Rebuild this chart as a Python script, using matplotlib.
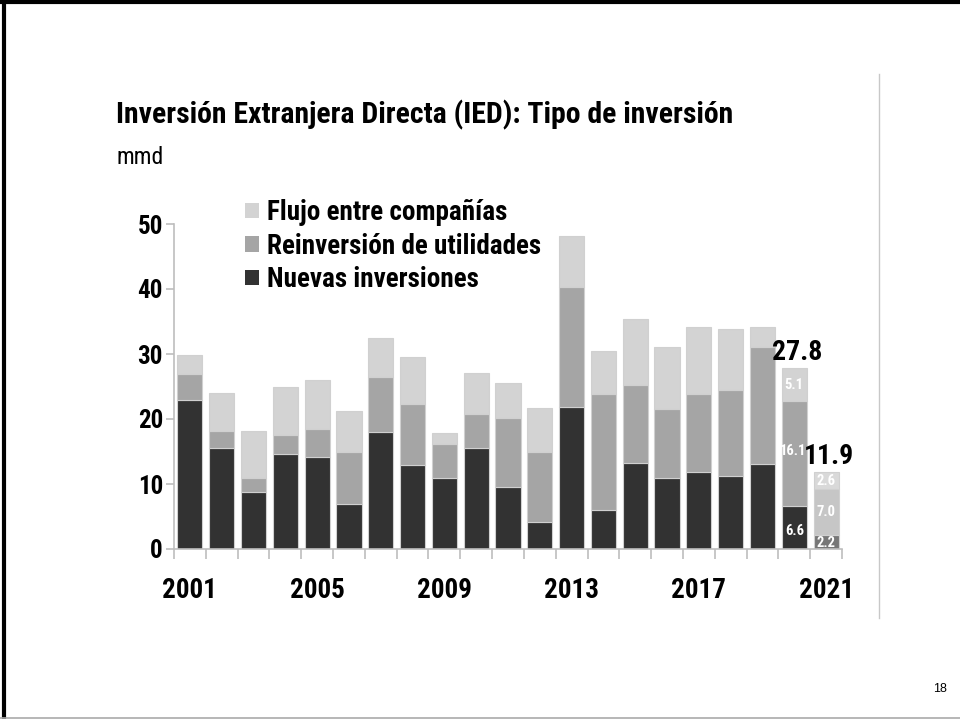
import matplotlib
matplotlib.use("Agg")
import matplotlib.pyplot as plt
from matplotlib import font_manager as fm
from matplotlib.lines import Line2D
import numpy as np

names = {f.name for f in fm.fontManager.ttflist}
FONT = 'Liberation Sans'
for cand in ['Liberation Sans Narrow', 'Arial Narrow', 'Roboto Condensed', 'PT Sans Narrow',
             'Archivo Narrow', 'Barlow Semi Condensed']:
    if cand in names:
        FONT = cand
        break
FAM = [FONT, 'DejaVu Sans']
plt.rcParams['font.family'] = FAM

years = list(range(2001, 2022))
nuevas = [23.0, 15.5, 8.7, 14.6, 14.1, 6.9, 18.0, 12.9, 10.9, 15.5, 9.6,
          4.2, 21.9, 6.0, 13.2, 10.9, 11.8, 11.2, 13.1, 6.6, 2.2]
reinversion = [3.9, 2.6, 2.3, 2.9, 4.4, 8.1, 8.5, 9.4, 5.3, 5.3, 10.6,
               10.7, 18.4, 17.9, 12.0, 10.7, 12.1, 13.2, 18.0, 16.1, 7.0]
flujo = [3.0, 5.9, 7.2, 7.5, 7.5, 6.2, 6.0, 7.2, 1.6, 6.3, 5.3,
         6.8, 7.9, 6.5, 10.2, 9.5, 10.3, 9.5, 3.1, 5.1, 2.6]
series_names = ['Nuevas inversiones', 'Reinversión de utilidades', 'Flujo entre compañías']
total_labels = {2020: '27.8', 2021: '11.9'}
xtick_years = [2001, 2005, 2009, 2013, 2017, 2021]
yticks = [0, 10, 20, 30, 40, 50]

c_n, c_r, c_f = '#323232', '#a5a5a5', '#d3d3d3'
c_n21, c_r21, c_f21 = '#777777', '#c6c6c6', '#d9d9d9'

fig = plt.figure(figsize=(9.6, 7.19), dpi=100)
ax = fig.add_axes([174/960, 1-549/719, 668/960, 325/719])

x = np.arange(len(years))
n_cols = [c_n]*(len(years)-1) + [c_n21]
r_cols = [c_r]*(len(years)-1) + [c_r21]
f_cols = [c_f]*(len(years)-1) + [c_f21]
w = 0.79
ec = '#d0d0d0'
b1 = ax.bar(x, nuevas, w, color=n_cols, edgecolor=ec, linewidth=0.8, label=series_names[0])
b2 = ax.bar(x, reinversion, w, bottom=nuevas, color=r_cols, edgecolor=ec, linewidth=0.8, label=series_names[1])
bot3 = np.array(nuevas) + np.array(reinversion)
b3 = ax.bar(x, flujo, w, bottom=bot3, color=f_cols, edgecolor=ec, linewidth=0.8, label=series_names[2])

ax.set_xlim(-0.5, len(years)-0.5)
ax.set_ylim(0, 50)
for s in ['top', 'right']:
    ax.spines[s].set_visible(False)
for s in ['left', 'bottom']:
    ax.spines[s].set_color('#bdbdbd')
    ax.spines[s].set_linewidth(1.2)

ax.set_yticks(yticks)
ax.set_yticklabels([str(v) for v in yticks], fontsize=18, fontweight='bold')
ax.tick_params(axis='y', length=6, color='#bdbdbd', width=1.2, pad=2)
ax.set_xticks([years.index(y) for y in xtick_years])
ax.set_xticklabels([str(y) for y in xtick_years], fontsize=19.5, fontweight='bold')
ax.set_xticks(np.arange(-0.5, len(years), 1.0), minor=True)
ax.tick_params(axis='x', which='major', length=0, pad=20)
ax.tick_params(axis='x', which='minor', length=7, color='#bdbdbd', width=1.2)

# segment labels for last two bars
for yr in [2020, 2021]:
    i = years.index(yr)
    segs = [(nuevas[i], 0), (reinversion[i], nuevas[i]), (flujo[i], bot3[i])]
    for k, (v, b) in enumerate(segs):
        ypos = b + v/2
        if yr == 2021 and k == 0:
            ypos = b + v/2 - 0.2
        if yr == 2020 and k == 0:
            ypos = b + v/2 - 0.5
        if yr == 2020 and k == 1:
            ypos = b + v/2 + 0.4
        ax.text(i - (0.05 if (yr == 2020 and k == 1) else 0), ypos, f'{v:.1f}', ha='center', va='center',
                color='white', fontsize=10.5, fontweight='bold')
    total = nuevas[i] + reinversion[i] + flujo[i]
    ax.text(i + 0.1, total + 0.3, total_labels[yr], ha='center', va='bottom',
            fontsize=20, fontweight='bold', color='black')

handles = [b3, b2, b1]
leg = ax.legend(handles, [series_names[2], series_names[1], series_names[0]],
                loc='upper left', bbox_to_anchor=(245/960, 1-199/719), bbox_transform=fig.transFigure,
                frameon=False, handlelength=0.5, handleheight=0.5, handletextpad=0.3,
                labelspacing=0.24, borderpad=0, borderaxespad=0,
                prop={'family': FAM, 'weight': 'bold', 'size': 19.5})
for p in leg.get_patches():
    p.set_edgecolor('none')

fig.text(116/960, 1-115/719, 'Inversión Extranjera Directa (IED): Tipo de inversión',
         fontsize=21.4, fontweight='bold', ha='left', va='center')
fig.text(116/960, 1-158/719, 'mmd', fontsize=17, ha='left', va='center')
fig.text(940/960, 1-689/719, '18', fontsize=9, ha='center', va='center',
         family=['Liberation Sans', 'DejaVu Sans'])

# slide frame
fig.add_artist(Line2D([879/960, 879/960], [1-74/719, 1-618/719], color='#c8c8c8', lw=1))
fig.add_artist(Line2D([4/960, 4/960], [0, 1], color='black', lw=3))
fig.add_artist(Line2D([0, 1], [1-2/719, 1-2/719], color='black', lw=3))
fig.add_artist(Line2D([0, 1], [1-718/719, 1-718/719], color='#aaaaaa', lw=1.2))

fig.savefig('out.png', dpi=100)
